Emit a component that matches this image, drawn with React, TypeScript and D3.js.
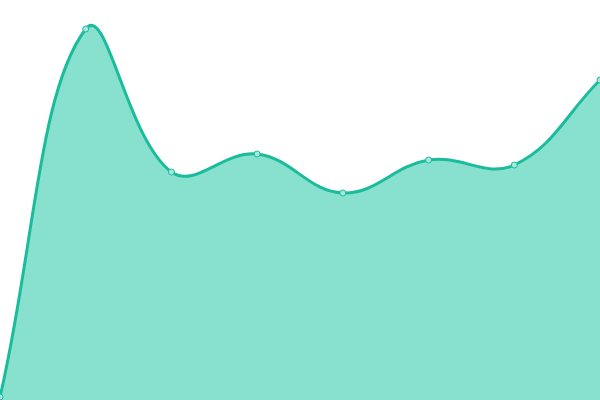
import { useEffect, useRef } from "react";
import * as d3 from "d3";

// x positions are just the index
const labels = ["0", "1", "2", "3", "4", "5", "6", "7"];
const values = [3, 371, 228, 246, 207, 240, 235, 320];

const LINE = "#1abc9c";
const FILL = "#88e0cf";
const TENSION = 0.4;

type Pt = { x: number; y: number };

// spline control points weighted by neighbour distance (tension 0.4)
function controlPoints(pts: Pt[]) {
  return pts.map((p, i) => {
    const prev = pts[Math.max(0, i - 1)];
    const next = pts[Math.min(pts.length - 1, i + 1)];
    const d01 = Math.hypot(p.x - prev.x, p.y - prev.y);
    const d12 = Math.hypot(next.x - p.x, next.y - p.y);
    const sum = d01 + d12 || 1;
    const fa = (TENSION * d01) / sum;
    const fb = (TENSION * d12) / sum;
    return {
      before: { x: p.x - fa * (next.x - prev.x), y: p.y - fa * (next.y - prev.y) },
      after: { x: p.x + fb * (next.x - prev.x), y: p.y + fb * (next.y - prev.y) },
    };
  });
}

function splinePath(pts: Pt[], path: d3.Path, moveFirst: boolean) {
  const cps = controlPoints(pts);
  if (moveFirst) path.moveTo(pts[0].x, pts[0].y);
  else path.lineTo(pts[0].x, pts[0].y);
  for (let i = 1; i < pts.length; i++) {
    const a = cps[i - 1].after;
    const b = cps[i].before;
    path.bezierCurveTo(a.x, a.y, b.x, b.y, pts[i].x, pts[i].y);
  }
  return path;
}

export default function App() {
  const svgRef = useRef<SVGSVGElement | null>(null);

  useEffect(() => {
    const svg = d3.select(svgRef.current);
    svg.selectAll("*").remove();
    const W = 600;
    const H = 400;

    const x = d3.scalePoint<string>().domain(labels).range([0, W]);
    const y = d3.scaleLinear().domain([0, 400]).range([H, 0]);

    const pts: Pt[] = labels.map((l, i) => ({ x: x(l)!, y: y(values[i]) }));

    const areaPath = d3.path();
    areaPath.moveTo(pts[0].x, H);
    splinePath(pts, areaPath, false);
    areaPath.lineTo(pts[pts.length - 1].x, H);
    areaPath.closePath();
    svg.append("path").attr("d", areaPath.toString()).attr("fill", FILL);

    svg
      .append("path")
      .attr("d", splinePath(pts, d3.path(), true).toString())
      .attr("fill", "none")
      .attr("stroke", LINE)
      .attr("stroke-width", 3);

    svg
      .append("g")
      .selectAll("circle")
      .data(pts)
      .join("circle")
      .attr("cx", (d) => d.x)
      .attr("cy", (d) => d.y)
      .attr("r", 3)
      .attr("fill", "#a6e8db")
      .attr("stroke", LINE)
      .attr("stroke-width", 1);
  }, []);

  return (
    <svg
      ref={svgRef}
      width={600}
      height={400}
      style={{ position: "absolute", top: 0, left: 0 }}
    />
  );
}
